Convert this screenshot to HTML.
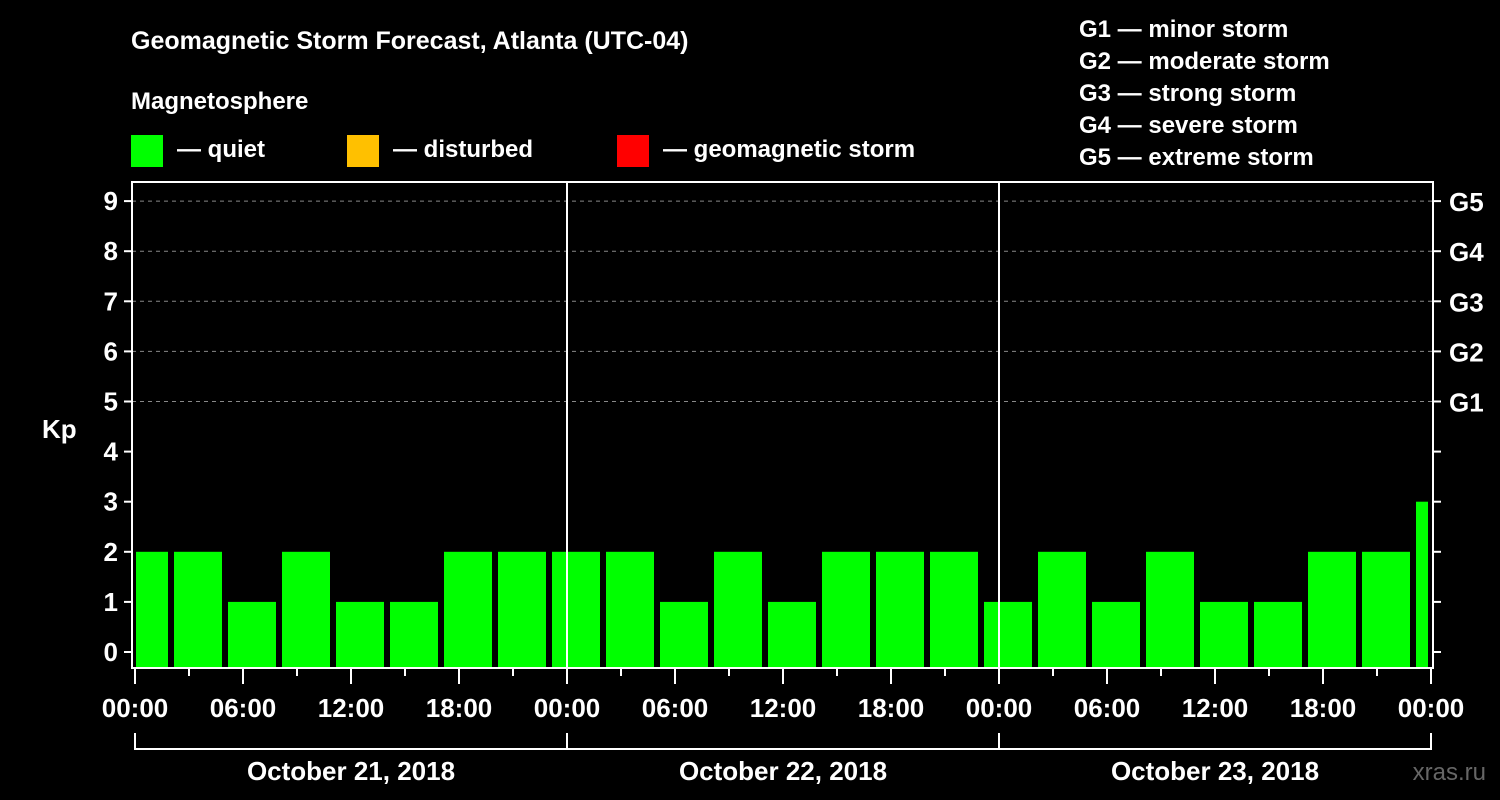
<!DOCTYPE html>
<html><head><meta charset="utf-8"><style>
html,body{margin:0;padding:0;background:#000;}
svg{display:block;font-family:"Liberation Sans",Arial,sans-serif;font-weight:bold;}
</style></head><body>
<svg id="chart" width="1500" height="800" viewBox="0 0 1500 800">
<rect x="0" y="0" width="1500" height="800" fill="#000"/>
<text x="131" y="49" fill="#fff" font-size="25">Geomagnetic Storm Forecast, Atlanta (UTC-04)</text>
<text x="131" y="109" fill="#fff" font-size="24">Magnetosphere</text>
<g><rect x="131" y="135" width="32" height="32" fill="#00ff00"/><text x="177" y="157" fill="#fff" font-size="24">— quiet</text></g>
<g><rect x="347" y="135" width="32" height="32" fill="#ffc000"/><text x="393" y="157" fill="#fff" font-size="24">— disturbed</text></g>
<g><rect x="617" y="135" width="32" height="32" fill="#ff0000"/><text x="663" y="157" fill="#fff" font-size="24">— geomagnetic storm</text></g>
<g fill="#fff" font-size="24">
<text x="1079" y="37">G1 — minor storm</text>
<text x="1079" y="69">G2 — moderate storm</text>
<text x="1079" y="101">G3 — strong storm</text>
<text x="1079" y="133">G4 — severe storm</text>
<text x="1079" y="165">G5 — extreme storm</text>
</g>
<text x="42" y="438" fill="#fff" font-size="26">Kp</text>
<text x="1486" y="780" fill="#666" font-size="24" text-anchor="end" font-weight="normal">xras.ru</text>
<g id="plot"></g>
</svg>
<script>
const kpValues = [2,2,1,2,1,1,2,2, 2,2,1,2,1,2,2,2, 1,2,1,2,1,1,2,2, 3];
const yTicks = [0,1,2,3,4,5,6,7,8,9];
const gLabels = ["G1","G2","G3","G4","G5"];
const hourLabels = ["00:00","06:00","12:00","18:00"];
const dayLabels = ["October 21, 2018","October 22, 2018","October 23, 2018"];
const binStartHour = -1, binHours = 3;

const X0 = 135, PXH = 18, totalH = 72;
const xs = h => X0 + h * PXH;
const ys = v => 652 - v * 50.1;
const L = 132, R = 1433, T = 182, B = 668;
const NS = "http://www.w3.org/2000/svg";
const plot = document.getElementById('plot');
function mk(tag, attrs, parent){const e=document.createElementNS(NS,tag);for(const k in attrs)e.setAttribute(k,attrs[k]);(parent||plot).appendChild(e);return e;}

// grid lines G1..G5
yTicks.forEach(v=>{
  if(v>=5){const g=mk('line',{x1:L,x2:R,y1:ys(v),y2:ys(v),stroke:'#888','stroke-dasharray':'4,4','stroke-width':1});
  
  }
});
// bars
kpValues.forEach((v,i)=>{
  let h0 = binStartHour + i*binHours, h1 = h0 + binHours;
  let x0 = Math.max(xs(h0)+3, L+4), x1 = Math.min(xs(h1)-3, R-5);
  const c = v>=5 ? '#ff0000' : (v>=4 ? '#ffc000' : '#00ff00');
  const r=mk('rect',{x:x0,y:ys(v),width:x1-x0,height:B-ys(v),fill:c});
  
  
});
// day separators
for(let d=1; d<3; d++){
  const l=mk('line',{x1:xs(24*d),x2:xs(24*d),y1:T,y2:B,stroke:'#fff','stroke-width':2});
  
  
}
// frame
const f=mk('rect',{x:L,y:T,width:R-L,height:B-T,fill:'none',stroke:'#fff','stroke-width':2});


// y ticks left & right
yTicks.forEach(v=>{
  mk('line',{x1:L-8,x2:L,y1:ys(v),y2:ys(v),stroke:'#fff','stroke-width':2});
  mk('line',{x1:R,x2:R+8,y1:ys(v),y2:ys(v),stroke:'#fff','stroke-width':2});
  const t=mk('text',{x:L-14,y:ys(v)+9,fill:'#fff','font-size':26,'text-anchor':'end'});
  t.textContent=v;
  
  
  if(v>=5){const g=mk('text',{x:R+16,y:ys(v)+10,fill:'#fff','font-size':26});
  g.textContent=gLabels[v-5];
  
  }
});
// x ticks
for(let h=0; h<=totalH; h+=3){
  const major = h%6===0;
  mk('line',{x1:xs(h),x2:xs(h),y1:B,y2:B+(major?16:8),stroke:'#fff','stroke-width':2});
  if(major){const t=mk('text',{x:xs(h),y:717,fill:'#fff','font-size':26,'text-anchor':'middle'});
  t.textContent=hourLabels[(h/6)%4];
  
  }
}
// day bracket
mk('line',{x1:xs(0),x2:xs(totalH),y1:749,y2:749,stroke:'#fff','stroke-width':2});
for(let d=0; d<=3; d++) mk('line',{x1:xs(24*d),x2:xs(24*d),y1:733,y2:750,stroke:'#fff','stroke-width':2});
dayLabels.forEach((s,d)=>{
  const t=mk('text',{x:xs(24*d+12),y:780,fill:'#fff','font-size':26,'text-anchor':'middle'});
  t.textContent=s;
  
  
});
</script>
</body></html>
